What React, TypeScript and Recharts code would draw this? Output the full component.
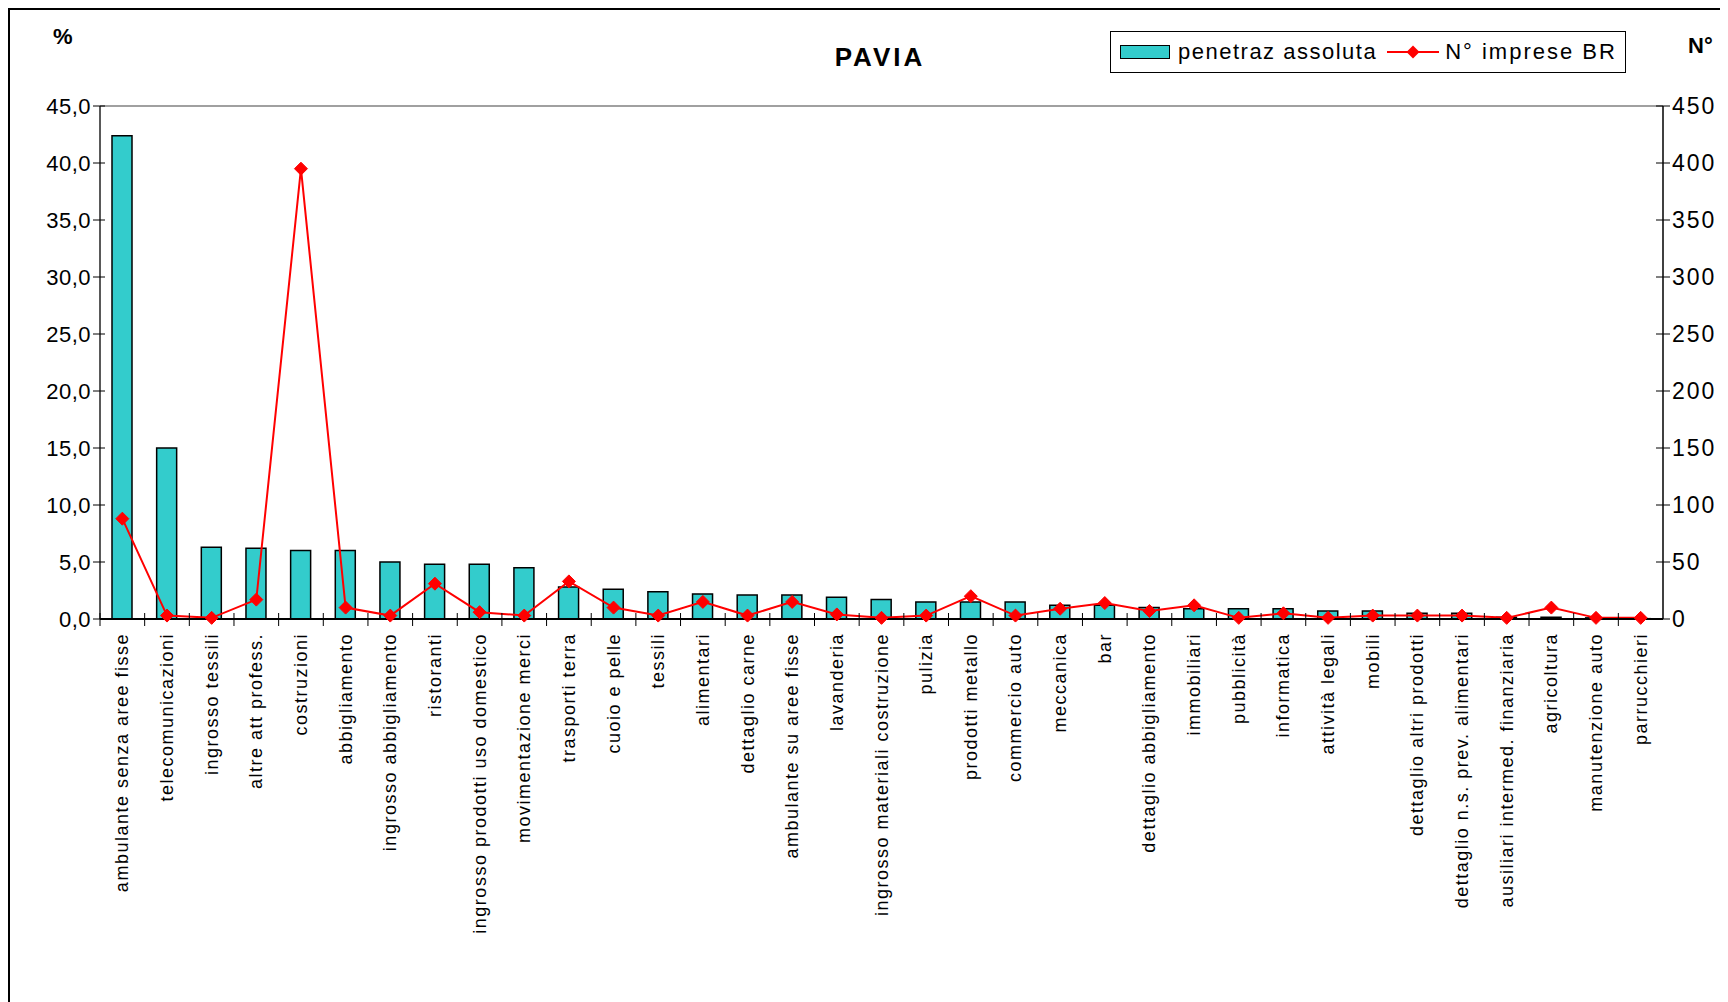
import { Bar, ComposedChart, Line, ReferenceLine, XAxis, YAxis } from "recharts";

const categorie = [
  "ambulante senza aree fisse",
  "telecomunicazioni",
  "ingrosso tessili",
  "altre att profess.",
  "costruzioni",
  "abbigliamento",
  "ingrosso abbigliamento",
  "ristoranti",
  "ingrosso prodotti uso domestico",
  "movimentazione merci",
  "trasporti terra",
  "cuoio e pelle",
  "tessili",
  "alimentari",
  "dettaglio carne",
  "ambulante su aree fisse",
  "lavanderia",
  "ingrosso materiali costruzione",
  "pulizia",
  "prodotti metallo",
  "commercio auto",
  "meccanica",
  "bar",
  "dettaglio abbigliamento",
  "immobiliari",
  "pubblicità",
  "informatica",
  "attività legali",
  "mobili",
  "dettaglio altri prodotti",
  "dettaglio n.s. prev. alimentari",
  "ausiliari intermed. finanziaria",
  "agricoltura",
  "manutenzione auto",
  "parrucchieri",
];

const penetrazAssoluta = [
  42.4, 15.0, 6.3, 6.2, 6.0, 6.0, 5.0, 4.8, 4.8, 4.5, 2.8, 2.6, 2.4, 2.2, 2.1,
  2.1, 1.9, 1.7, 1.5, 1.5, 1.5, 1.2, 1.2, 1.0, 0.9, 0.9, 0.9, 0.7, 0.7, 0.5,
  0.5, 0.15, 0.15, 0.1, 0.03,
];

const impreseBR = [
  88, 3, 1, 17, 395, 10, 3, 31, 6, 3, 33, 10, 3, 15, 3, 15, 4, 1, 3, 20, 3, 9,
  14, 7, 12, 1, 5, 1, 3, 3, 3, 1, 10, 1, 1,
];

const tickPercento = [0, 5, 10, 15, 20, 25, 30, 35, 40, 45];
const tickNumero = [0, 50, 100, 150, 200, 250, 300, 350, 400, 450];

const data = categorie.map((nome, i) => ({
  nome,
  penetraz: penetrazAssoluta[i],
  imprese: impreseBR[i],
}));

const FONT = '"Liberation Sans", Arial, sans-serif';
const PLOT_W = 1563;
const BAND = PLOT_W / categorie.length;

const fmt = (v: number) => v.toFixed(1).replace(".", ",");

const CategoryTick = ({ x, y, payload }: any) => (
  <g>
    <line x1={x - BAND / 2} x2={x - BAND / 2} y1={y - 6} y2={y + 7} stroke="#000" />
    <text
      x={x}
      y={y + 14}
      transform={`rotate(-90, ${x}, ${y + 14})`}
      textAnchor="end"
      dominantBaseline="central"
      fontSize={18}
      letterSpacing={1.5}
      fontFamily={FONT}
      fill="#000"
    >
      {payload.value}
    </text>
  </g>
);

const LeftTick = ({ x, y, payload }: any) => (
  <g>
    <line x1={x - 7} x2={x + 5} y1={y} y2={y} stroke="#000" />
    <text
      x={x - 9}
      y={y}
      textAnchor="end"
      dominantBaseline="central"
      fontSize={22}
      letterSpacing={0.5}
      fontFamily={FONT}
      fill="#000"
    >
      {fmt(payload.value)}
    </text>
  </g>
);

const RightTick = ({ x, y, payload }: any) => (
  <g>
    <line x1={x - 7} x2={x + 7} y1={y} y2={y} stroke="#000" />
    <text
      x={x + 9}
      y={y}
      textAnchor="start"
      dominantBaseline="central"
      fontSize={23}
      letterSpacing={2}
      fontFamily={FONT}
      fill="#000"
    >
      {payload.value}
    </text>
  </g>
);

const Diamond = ({ cx, cy }: any) => {
  if (cx == null || cy == null) return null;
  const r = 6.5;
  return (
    <polygon
      points={`${cx},${cy - r} ${cx + r},${cy} ${cx},${cy + r} ${cx - r},${cy}`}
      fill="#FF0000"
      stroke="#FF0000"
    />
  );
};

const Legenda = () => (
  <div
    style={{
      position: "absolute",
      left: 1100,
      top: 21,
      width: 514,
      height: 40,
      border: "1px solid #000",
      background: "#fff",
      display: "flex",
      alignItems: "center",
      fontFamily: FONT,
      fontSize: 22,
      letterSpacing: 1.5,
      color: "#000",
    }}
  >
    <div
      style={{
        width: 48,
        height: 12,
        marginLeft: 9,
        marginRight: 8,
        background: "#33CCCC",
        border: "1.5px solid #000",
      }}
    />
    <span>penetraz assoluta</span>
    <svg width={56} height={20} style={{ marginLeft: 8, marginRight: 4 }}>
      <line x1={2} x2={54} y1={10} y2={10} stroke="#FF0000" strokeWidth={2} />
      <polygon points="28,3.5 34.5,10 28,16.5 21.5,10" fill="#FF0000" />
    </svg>
    <span style={{ letterSpacing: 2 }}>N° imprese BR</span>
  </div>
);

export default function App() {
  return (
    <div
      style={{
        position: "relative",
        width: 1720,
        height: 994,
        borderTop: "2px solid #000",
        borderLeft: "2px solid #000",
        boxSizing: "border-box",
        overflow: "hidden",
        background: "#fff",
      }}
    >
      <div
        style={{
          position: "absolute",
          left: 43,
          top: 14,
          fontFamily: FONT,
          fontWeight: "bold",
          fontSize: 22,
        }}
      >
        %
      </div>
      <div
        style={{
          position: "absolute",
          left: 820,
          top: 32,
          width: 100,
          textAlign: "center",
          fontFamily: FONT,
          fontWeight: "bold",
          fontSize: 26,
          letterSpacing: 3,
        }}
      >
        PAVIA
      </div>
      <div
        style={{
          position: "absolute",
          left: 1678,
          top: 23,
          fontFamily: FONT,
          fontWeight: "bold",
          fontSize: 22,
        }}
      >
        N°
      </div>
      <Legenda />
      <div style={{ position: "absolute", left: 0, top: 0 }}>
        <ComposedChart
          width={1718}
          height={992}
          data={data}
          margin={{ top: 96, right: 0, bottom: 0, left: 0 }}
          barCategoryGap={0}
        >
          <XAxis
            dataKey="nome"
            yAxisId="left"
            interval={0}
            height={383}
            tickSize={0}
            tickMargin={0}
            tick={<CategoryTick />}
            axisLine={{ stroke: "#000", strokeWidth: 2 }}
          />
          <YAxis
            yAxisId="left"
            orientation="left"
            width={90}
            domain={[0, 45]}
            ticks={tickPercento}
            interval={0}
            tickSize={0}
            tickMargin={0}
            tick={<LeftTick />}
            axisLine={{ stroke: "#222", strokeWidth: 1.5 }}
          />
          <YAxis
            yAxisId="right"
            orientation="right"
            width={65}
            domain={[0, 450]}
            ticks={tickNumero}
            interval={0}
            tickSize={0}
            tickMargin={0}
            tick={<RightTick />}
            axisLine={{ stroke: "#000", strokeWidth: 1.5 }}
          />
          <ReferenceLine yAxisId="left" y={45} stroke="#808080" strokeWidth={1.5} />
          <Bar
            yAxisId="left"
            dataKey="penetraz"
            barSize={20}
            fill="#33CCCC"
            stroke="#000"
            strokeWidth={1.5}
            isAnimationActive={false}
          />
          <Line
            yAxisId="right"
            dataKey="imprese"
            type="linear"
            stroke="#FF0000"
            strokeWidth={2}
            dot={<Diamond />}
            activeDot={false}
            isAnimationActive={false}
          />
        </ComposedChart>
      </div>
    </div>
  );
}
